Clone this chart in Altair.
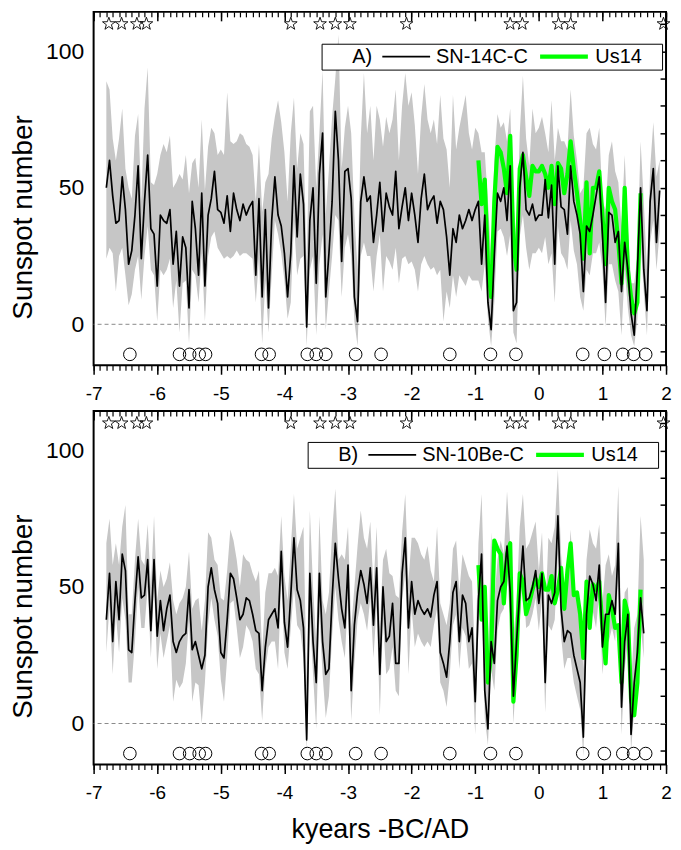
import altair as alt
import pandas as pd

# ---------------- data ----------------
KYR = [
    -6.8, -6.75, -6.7, -6.65, -6.6, -6.55, -6.5, -6.45, -6.4, -6.35,
    -6.3, -6.25, -6.2, -6.15, -6.1, -6.05, -6.0, -5.95, -5.9, -5.85,
    -5.8, -5.75, -5.7, -5.65, -5.6, -5.55, -5.5, -5.45, -5.4, -5.35,
    -5.3, -5.25, -5.2, -5.15, -5.1, -5.05, -5.0, -4.95, -4.9, -4.85,
    -4.8, -4.75, -4.7, -4.65, -4.6, -4.55, -4.5, -4.45, -4.4, -4.35,
    -4.3, -4.25, -4.2, -4.15, -4.1, -4.05, -4.0, -3.95, -3.9, -3.85,
    -3.8, -3.75, -3.7, -3.65, -3.6, -3.55, -3.5, -3.45, -3.4, -3.35,
    -3.3, -3.25, -3.2, -3.15, -3.1, -3.05, -3.0, -2.95, -2.9, -2.85,
    -2.8, -2.75, -2.7, -2.65, -2.6, -2.55, -2.5, -2.45, -2.4, -2.35,
    -2.3, -2.25, -2.2, -2.15, -2.1, -2.05, -2.0, -1.95, -1.9, -1.85,
    -1.8, -1.75, -1.7, -1.65, -1.6, -1.55, -1.5, -1.45, -1.4, -1.35,
    -1.3, -1.25, -1.2, -1.15, -1.1, -1.05, -1.0, -0.95, -0.9, -0.85,
    -0.8, -0.75, -0.7, -0.65, -0.6, -0.55, -0.5, -0.45, -0.4, -0.35,
    -0.3, -0.25, -0.2, -0.15, -0.1, -0.05, 0.0, 0.05, 0.1, 0.15,
    0.2, 0.25, 0.3, 0.35, 0.4, 0.45, 0.5, 0.55, 0.6, 0.65,
    0.7, 0.75, 0.8, 0.85, 0.9, 0.95, 1.0, 1.05, 1.1, 1.15,
    1.2, 1.25, 1.3, 1.35, 1.4, 1.45, 1.5, 1.55, 1.6, 1.65,
    1.7, 1.75, 1.8, 1.85, 1.9,
]

# Panel A: SN-14C-C
A_BLACK = [
    50, 60, 47, 37, 38, 54, 42, 22, 27, 40,
    58, 24, 45, 62, 35, 33, 14, 40, 38, 37,
    42, 22, 34, 14, 32, 28, 6, 45, 35, 18,
    48, 14, 40, 46, 56, 42, 41, 37, 47, 34,
    48, 42, 38, 44, 40, 43, 45, 18, 46, 10,
    42, 6, 38, 54, 40, 36, 26, 10,
    26, 58, 32, 55, 44, -1, 38, 50, 15, 55,
    70, 10, 26, 45, 78, 60, 23, 56, 57, 46,
    10, 1, 45, 54, 45, 47, 30, 40, 52, 34,
    48, 43, 40, 56, 35, 43, 50, 38, 48, 40,
    30, 46, 55, 42, 45, 47, 37, 45, 42, 32,
    18, 35, 30, 40, 35, 38, 42, 38, 42, 45,
    22, 40, 8, -2, 25, 48, 45, 50, 38, 58,
    5, 8, 50, 63, 42, 40, 44, 38, 40, 40,
    53, 39, 51, 22, 58, 43, 42, 33, 58, 45,
    40, 33, 12, 36, 34, 40, 47, 54, 33, 8,
    41, 40, 30, 34, 12, 30, 20, 4, -4, 20,
    50, 20, 5, 45, 57, 30, 49,
]
A_LOWER = [
    24, 28, 26, 12, 25, 28, 18, 7, 11, 20,
    25, 9, 25, 36, 20, 18, 1, 20, 18, 20,
    24, 6, 16, -3, 15, 16, -7, 20, 18, 8,
    26, 1, 25, 32, 34, 28, 26, 24, 25, 24,
    25, 27, 25, 26, 26, 25, 24, 8, 24, -7,
    16, -3, 18, 38, 33, 26, 16, 2,
    8, 38, 18, 24, 25, -8, 20, 25, -4, 22,
    33, -2, 12, 25, 40, 38, 10, 28, 33, 25,
    1, -8, 25, 30, 25, 25, 12, 25, 33, 12,
    25, 23, 20, 28, 15, 24, 25, 22, 23, 20,
    12, 22, 25, 22, 20, 21, 18, 20, 1, 12,
    6, 18, 10, 18, 16, 14, 18, 16, 16, 16,
    12, 22, 2, -8, 8, 34, 35, 32, 25, 33,
    -3, -7, 32, 40, 28, 20, 26, 26, 28, 26,
    32, 22, 26, 8, 36, 26, 24, 20, 38, 27,
    22, 10, 5, 20, 18, 26, 26, 30, 20, -1,
    22, 22, 16, 12, -4, 20, 6, -4, -8, 2,
    30, 12, -4, 30, 38, 20, 34,
]
A_UPPER = [
    89, 86, 68, 60, 68, 79, 57, 50, 46, 69,
    77, 45, 79, 94, 52, 51, 55, 62, 66, 63,
    69, 50, 52, 55, 53, 62, 48, 59, 61, 50,
    75, 49, 65, 72, 70, 62, 64, 62, 85, 67,
    66, 67, 70, 69, 66, 65, 62, 45, 66, 41,
    52, 55, 68, 76, 82, 74, 63, 45,
    70, 83, 57, 70, 66, 22, 78, 80, 50, 70,
    93, 40, 57, 76, 90, 106, 57, 72, 80, 70,
    40, 20, 68, 92, 70, 80, 60, 80, 75, 65,
    76, 70, 75, 86, 60, 80, 92, 80, 85, 73,
    55, 76, 88, 75, 70, 75, 66, 84, 68, 64,
    50, 84, 64, 72, 78, 84, 70, 64, 72, 70,
    63, 63, 45, 25, 60, 77, 72, 74, 67, 79,
    45, 30, 70, 91, 68, 58, 79, 70, 72, 76,
    70, 63, 82, 60, 72, 67, 67, 64, 86, 69,
    60, 48, 50, 70, 72, 66, 64, 72, 45, 42,
    62, 67, 56, 52, 36, 62, 35, 15, 15, 25,
    67, 45, 20, 57, 74, 54, 60,
]
A_US14 = [
    60, 44, 53, 22, 10, 45, 65, 63, 57, 48,
    69, 30, 20, 57, 62, 54, 47, 58, 56, 56,
    58, 55, 50, 58, 44, 59, 57, 48, 55, 67,
    57, 48, 38, 24, 52, 26, 50, 50, 56, 40,
    22, 50, 45, 42, 30, 15, 50, 20, 10, 4,
    8, 48,
]

# Panel B: SN-10Be-C
B_BLACK = [
    38, 55, 30, 52, 38, 62, 56, 27, 26, 45,
    61, 46, 47, 60, 34, 60, 32, 45, 34, 42,
    47, 30, 26, 30, 32, 33, 49, 27, 30, 25,
    20, 25, 50, 57, 49, 44, 26, 24, 38, 55,
    53, 46, 38, 40, 46, 45, 40, 34, 33, 12,
    28, 38, 40, 42, 35, 63, 37, 28,
    47, 68, 49, 45, 35, -6, 55, 30, 15, 55,
    30, 18, 20, 46, 66, 53, 42, 35, 58, 12,
    36, 48, 56, 51, 44, 57, 36, 57, 18, 50,
    30, 32, 44, 22, 22, 55, 68, 35, 52, 40,
    45, 42, 40, 42, 39, 47, 52, 26, 22, 17,
    30, 48, 52, 30, 47, 44, 30, 35, 8, 45,
    62, 12, -2, 30, 22, 45, 50, 52, 65, 48,
    10, 30, 48, 65, 45, 46, 50, 56, 44, 55,
    15, 47, 44, 48, 76, 42, 30, 34, 33, 25,
    20, 15, -5, 40, 54, 51, 45, 58, 28, 40,
    40, 45, 40, 66, 6, 30, 40, -4, 15, 26,
    46, 33,
]
B_LOWER = [
    26, 43, 18, 40, 26, 46, 38, 15, 15, 30,
    50, 35, 35, 50, 24, 50, 20, 33, 24, 30,
    36, 8, 16, 13, 15, 22, 38, 8, 15, 14,
    0, 15, 36, 46, 38, 32, 16, 8, 24, 44,
    45, 35, 24, 28, 36, 34, 30, 20, 18, 1,
    20, 28, 30, 30, 20, 53, 26, 20,
    35, 50, 36, 34, 24, -10, 40, 18, -2, 40,
    18, 2, 10, 32, 50, 38, 30, 24, 46, 1,
    22, 38, 44, 40, 34, 46, 24, 43, 3, 38,
    18, 20, 28, 12, 10, 45, 55, 18, 42, 28,
    33, 30, 28, 30, 28, 36, 42, 15, 12, 6,
    18, 36, 40, 20, 35, 32, 20, 22, -4, 36,
    50, 2, -8, 20, 12, 34, 40, 42, 55, 38,
    0, 20, 38, 55, 35, 36, 40, 46, 34, 45,
    4, 36, 34, 38, 62, 32, 20, 24, 24, 15,
    10, 5, -12, 30, 44, 41, 35, 48, 18, 30,
    30, 35, 30, 55, -4, 20, 30, -10, 5, 16,
    36, 24,
]
B_UPPER = [
    66, 75, 58, 66, 58, 72, 80, 40, 40, 60,
    75, 60, 58, 73, 50, 76, 45, 56, 50, 53,
    59, 45, 40, 44, 46, 50, 63, 42, 45, 46,
    34, 45, 70, 68, 60, 58, 46, 45, 56, 71,
    67, 60, 50, 62, 60, 59, 55, 52, 56, 26,
    48, 55, 55, 57, 54, 76, 54, 45,
    64, 84, 64, 68, 72, 15, 78, 50, 30, 76,
    45, 40, 48, 70, 86, 60, 62, 60, 72, 35,
    50, 65, 78, 68, 64, 74, 50, 72, 35, 60,
    64, 55, 54, 47, 46, 70, 84, 52, 68, 68,
    66, 62, 60, 65, 56, 52, 72, 44, 40, 36,
    44, 64, 67, 48, 62, 58, 54, 52, 22, 66,
    84, 42, 20, 70, 45, 60, 67, 62, 85, 66,
    32, 44, 72, 84, 64, 66, 70, 74, 56, 70,
    38, 68, 66, 72, 93, 62, 45, 52, 71, 50,
    46, 40, 20, 60, 71, 66, 64, 73, 44, 58,
    62, 54, 58, 87, 25, 48, 50, 15, 35, 40,
    76, 60,
]
B_US14 = [
    58, 38, 50, 15, 25, 67, 64, 62, 44, 62,
    66, 8, 25, 55, 52, 40, 44, 49, 53, 50,
    55, 49, 49, 54, 44, 49, 57, 42, 56, 66,
    47, 48, 40, 24, 52, 35, 51, 49, 52, 35,
    22, 47, 42, 35, 36, 15, 45, 40, 9, 3,
    15, 49,
]
US14_START = -0.95

GRAND_MINIMA = [-6.43, -5.65, -5.49, -5.34, -5.24, -4.36, -4.24, -3.64, -3.5,
                -3.35, -2.88, -2.48, -1.4, -0.76, -0.36, 0.69, 1.03, 1.32,
                1.49, 1.68]
GRAND_MAXIMA = [-6.76, -6.56, -6.32, -6.17, -3.9, -3.44, -3.2, -2.97, -2.08,
                -0.45, -0.26, 0.31, 0.5, 1.96]
MINIMA_LEVEL = -11
MAXIMA_LEVEL = 110

X_MAJOR = [-7, -6, -5, -4, -3, -2, -1, 0, 1, 2]
X_MINOR = [round(-7 + 0.1 * i, 1) for i in range(91)]
Y_LABELS = [0, 50, 100]
Y_TICKS = [-10, 0, 10, 20, 30, 40, 50, 60, 70, 80, 90, 100, 110]

# ---------------- styling ----------------
FONT = "Liberation Sans"
NB = "\u00a0"
ZW = "\u200b"
STAR = ("M0,-1L0.235,-0.324L0.951,-0.309L0.38,0.124L0.588,0.809L0,0.4"
        "L-0.588,0.809L-0.38,0.124L-0.951,-0.309L-0.235,-0.324Z")
XS = alt.Scale(domain=[-7, 2], nice=False, zero=False)
YS = alt.Scale(domain=[-15, 114.4], nice=False, zero=False)
W, H = 575, 355
LAB = "datum.value < 0 ? '-' + abs(datum.value) : '' + datum.value"


def panel(tag, name, black, lower, upper, us14, lx, ly, xtitle):
    n = len(black)
    i0 = KYR.index(US14_START)
    band = pd.DataFrame({"k": KYR[:n], "lo": lower, "hi": upper})
    blk = pd.DataFrame({"k": KYR[:n], "v": black, "s": name})
    grn = pd.DataFrame({"k": KYR[i0:i0 + len(us14)], "v": us14, "s": "Us14"})
    zero = pd.DataFrame({"z": [0]})
    gmin = pd.DataFrame({"k": GRAND_MINIMA, "v": [MINIMA_LEVEL] * len(GRAND_MINIMA)})
    gmax = pd.DataFrame({"k": GRAND_MAXIMA, "v": [MAXIMA_LEVEL] * len(GRAND_MAXIMA)})

    xmain = dict(orient="bottom", values=X_MAJOR, tickSize=9, tickWidth=1.5,
                 tickColor="black", labelFontSize=19, labelPadding=10,
                 labelColor="black", labelExpr=LAB, labelFlush=False,
                 labelOverlap=False, domain=False, grid=False,
                 labelFont=FONT, minExtent=0)
    if xtitle:
        xmain.update(title=xtitle, titleFontSize=27, titleFontWeight="normal",
                     titleColor="black", titlePadding=14, titleFont=FONT)
    else:
        xmain.update(title=None)
    ymain = alt.Axis(orient="left", values=Y_LABELS, ticks=False, domain=False,
                     grid=False, labelFontSize=23, labelPadding=10,
                     labelColor="black", labelFont=FONT,
                     title="Sunspot number", titleFontSize=28,
                     titleFontWeight="normal", titleColor="black",
                     titlePadding=8, titleFont=FONT, titleY=206)
    ax_bottom_minor = alt.Axis(orient="bottom", values=X_MINOR, tickSize=5,
                               tickWidth=1.2, tickColor="black", labels=False,
                               domain=False, grid=False, title=None, minExtent=0)
    ax_top_major = alt.Axis(orient="top", values=X_MAJOR, tickSize=9, offset=-9,
                            tickWidth=1.5, tickColor="black", labels=False,
                            domain=False, grid=False, title=None, minExtent=0)
    ax_top_minor = alt.Axis(orient="top", values=X_MINOR, tickSize=5, offset=-5,
                            tickWidth=1.2, tickColor="black", labels=False,
                            domain=False, grid=False, title=None, minExtent=0)
    ax_right = alt.Axis(orient="right", values=Y_TICKS, tickSize=6, offset=-6,
                        tickWidth=1.5, tickColor="black", labels=False,
                        domain=False, grid=False, title=None, minExtent=0)

    leg = alt.Legend(orient="none", legendX=lx, legendY=ly, direction="horizontal",
                     title=ZW + NB * 5 + tag, titleOrient="left", titleFontSize=20,
                     titleFontWeight="normal", titleColor="black", titleFont=FONT,
                     titlePadding=9, titleAnchor="middle", titleBaseline="middle",
                     labelFontSize=20, labelColor="black", labelFont=FONT,
                     labelOffset=5, columnPadding=9, symbolType="stroke",
                     symbolSize=2304, clipHeight=20, padding=3,
                     strokeColor="black", fillColor="white",
                     labelExpr="datum.label == 'Us14' ? 'Us14" + NB * 3 + ZW + "' : datum.label")
    cs = alt.Scale(domain=[name, "Us14"], range=["black", "#00ff00"])
    ws = alt.Scale(domain=[name, "Us14"], range=[1.7, 4.2])

    area = alt.Chart(band).mark_area(color="#c6c6c6", opacity=1).encode(
        x=alt.X("k:Q", scale=XS, axis=alt.Axis(**xmain)),
        y=alt.Y("lo:Q", scale=YS, axis=ymain),
        y2="hi:Q",
    )
    zline = alt.Chart(zero).mark_rule(color="#8a8a8a", strokeDash=[4, 3],
                                      strokeWidth=1).encode(
        y=alt.Y("z:Q", scale=YS, axis=None)
    )
    green = alt.Chart(grn).mark_line(strokeJoin="round").encode(
        x=alt.X("k:Q", scale=XS, axis=ax_bottom_minor),
        y=alt.Y("v:Q", scale=YS, axis=ax_right),
        color=alt.Color("s:N", scale=cs, legend=leg),
        strokeWidth=alt.StrokeWidth("s:N", scale=ws, legend=leg),
    )
    blackl = alt.Chart(blk).mark_line(strokeJoin="round").encode(
        x=alt.X("k:Q", scale=XS, axis=ax_top_major),
        y=alt.Y("v:Q", scale=YS, axis=None),
        color=alt.Color("s:N", scale=cs, legend=leg),
        strokeWidth=alt.StrokeWidth("s:N", scale=ws, legend=leg),
    )
    circ = alt.Chart(gmin).mark_point(shape="circle", size=160, filled=False,
                                      color="black", strokeWidth=1,
                                      opacity=1).encode(
        x=alt.X("k:Q", scale=XS, axis=ax_top_minor),
        y=alt.Y("v:Q", scale=YS, axis=None),
    )
    stars = alt.Chart(gmax).mark_point(shape=STAR, size=180, filled=False,
                                       color="black", strokeWidth=0.9,
                                       opacity=1).encode(
        x=alt.X("k:Q", scale=XS, axis=None),
        y=alt.Y("v:Q", scale=YS, axis=None),
    )
    return (
        alt.layer(area, zline, green, blackl, circ, stars)
        .resolve_axis(x="independent", y="independent")
        .properties(width=W, height=H)
    )


top = panel("A)", "SN-14C-C", A_BLACK, A_LOWER, A_UPPER, A_US14, 229, 32, None)
bottom = panel("B)", "SN-10Be-C", B_BLACK, B_LOWER, B_UPPER, B_US14, 215, 31,
               "kyears -BC/AD")

chart = (
    alt.vconcat(top, bottom, spacing=5)
    .resolve_scale(color="independent", strokeWidth="independent")
    .properties(padding={"left": 0, "top": 0, "right": 0, "bottom": 0})
    .configure(font=FONT)
    .configure_view(stroke="black", strokeWidth=2)
)

chart.save("out.html", embed_options={"renderer": "svg", "actions": False})
